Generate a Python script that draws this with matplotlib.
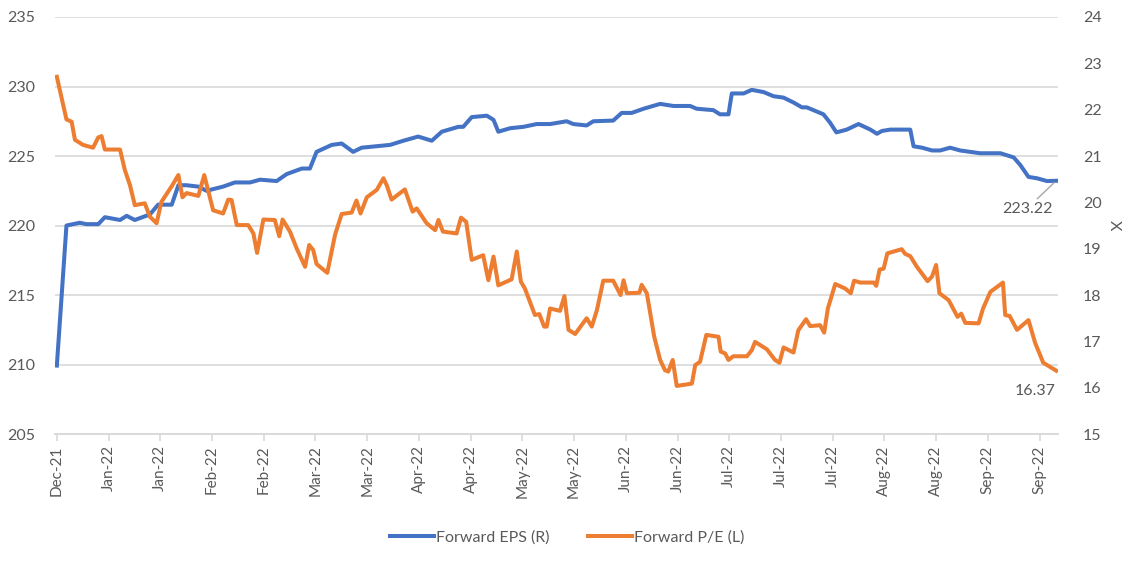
import numpy as np
import pandas as pd
import matplotlib
matplotlib.use('Agg')
import matplotlib.pyplot as plt
import matplotlib.dates as mdates

plt.rcParams['font.family'] = ['Lato', 'DejaVu Sans']

# days after 31 Dec 2021
eps_days = [0, 2.6, 6.2, 8.0, 11.2, 13.0, 17.1, 18.9, 21.1, 25.2, 27.4, 31.1, 32.9, 35.1,
            38.3, 40.5, 45.0, 48.2, 52.3, 55.0, 59.5, 62.2, 66.3, 68.5, 70.3, 74.4, 77.1,
            80.2, 82.5, 90.2, 93.8, 97.8, 101.5, 104.2, 108.7, 110.0, 112.3, 116.4, 118.2,
            119.5, 122.7, 126.3, 129.9, 133.5, 138.0, 139.8, 143.4, 145.2, 150.6, 152.9,
            155.6, 158.8, 163.3, 166.9, 171.4, 173.2, 177.7, 179.5, 181.8, 182.7, 185.9,
            188.1, 191.3, 194.0, 196.7, 199.4, 201.7, 203.0, 204.8, 207.5, 209.3, 211.0,
            213.8, 217.0, 220.2, 222.0, 223.3, 225.6, 231.0, 231.9, 234.2, 236.9, 239.1,
            241.8, 244.5, 249.9, 255.4, 259.0, 260.8, 263.0, 265.3, 268.0, 270.5]
eps = [209.93, 220.0, 220.2, 220.1, 220.1, 220.6, 220.4, 220.7, 220.4, 220.8, 221.5, 221.5,
       222.9, 222.9, 222.8, 222.5, 222.8, 223.1, 223.1, 223.3, 223.2, 223.7, 224.1, 224.1,
       225.3, 225.8, 225.9, 225.3, 225.6, 225.8, 226.1, 226.4, 226.1, 226.75, 227.1, 227.1,
       227.8, 227.9, 227.6, 226.75, 227.0, 227.1, 227.3, 227.3, 227.5, 227.3, 227.2, 227.5,
       227.55, 228.1, 228.1, 228.4, 228.75, 228.6, 228.6, 228.4, 228.3, 228.0, 228.0, 229.5,
       229.5, 229.76, 229.6, 229.3, 229.2, 228.85, 228.5, 228.5, 228.3, 228.0, 227.4, 226.7,
       226.9, 227.3, 226.9, 226.6, 226.8, 226.9, 226.9, 225.7, 225.6, 225.4, 225.4, 225.6,
       225.4, 225.2, 225.2, 224.9, 224.35, 223.5, 223.4, 223.2, 223.22]

pe_days = [0, 2.6, 4.0, 4.9, 7.1, 9.8, 11.2, 12.1, 13.0, 17.1, 18.4, 19.8, 21.1, 23.8, 25.2,
           27.0, 28.3, 31.1, 32.9, 34.0, 35.1, 38.3, 39.9, 42.3, 45.0, 46.4, 47.3, 48.7,
           51.8, 53.2, 54.2, 55.9, 59.0, 60.2, 61.1, 63.1, 64.9, 67.2, 68.3, 69.4, 70.3,
           73.2, 75.3, 77.1, 79.8, 81.1, 82.2, 83.9, 86.6, 88.4, 89.3, 90.6, 94.2, 96.3,
           97.4, 100.1, 102.4, 103.3, 104.5, 108.2, 109.4, 110.8, 112.3, 115.4, 116.8, 118.2,
           119.5, 123.1, 124.5, 125.6, 126.7, 129.4, 130.6, 131.9, 132.6, 133.5, 136.2,
           137.4, 138.5, 140.3, 143.4, 144.8, 146.2, 147.9, 150.6, 152.6, 153.4, 154.3,
           157.7, 158.3, 159.7, 161.7, 163.3, 164.6, 165.5, 166.7, 167.8, 171.9, 172.8,
           174.1, 175.8, 179.1, 179.7, 180.9, 181.8, 183.1, 186.8, 188.1, 189.0, 192.2,
           194.4, 195.6, 196.7, 199.4, 200.7, 202.8, 203.9, 206.6, 207.7, 208.7, 210.7,
           213.4, 214.9, 215.8, 217.5, 221.1, 221.8, 222.7, 223.8, 224.8, 227.4, 228.7,
           229.6, 231.0, 232.8, 235.7, 236.9, 238.0, 238.9, 241.4, 243.8, 244.8, 245.9,
           249.5, 250.7, 252.7, 256.1, 256.7, 257.9, 259.9, 263.0, 264.8, 267.0, 270.5]
pe = [22.71, 21.79, 21.74, 21.35, 21.24, 21.18, 21.40, 21.43, 21.14, 21.14, 20.70, 20.37,
      19.94, 19.98, 19.69, 19.55, 20.01, 20.35, 20.59, 20.11, 20.20, 20.14, 20.59, 19.83,
      19.76, 20.06, 20.05, 19.51, 19.51, 19.33, 18.91, 19.63, 19.62, 19.27, 19.63, 19.37,
      19.01, 18.61, 19.08, 18.97, 18.67, 18.48, 19.30, 19.75, 19.78, 20.04, 19.76, 20.11,
      20.27, 20.52, 20.37, 20.06, 20.28, 19.80, 19.87, 19.55, 19.40, 19.62, 19.37, 19.33,
      19.67, 19.58, 18.76, 18.86, 18.32, 18.83, 18.21, 18.34, 18.94, 18.29, 18.14, 17.57,
      17.59, 17.32, 17.32, 17.71, 17.66, 17.98, 17.25, 17.16, 17.50, 17.32, 17.68, 18.31,
      18.31, 18.00, 18.32, 18.04, 18.05, 18.22, 18.04, 17.10, 16.60, 16.38, 16.35, 16.60,
      16.04, 16.09, 16.49, 16.56, 17.14, 17.10, 16.78, 16.74, 16.60, 16.68, 16.68, 16.81,
      16.99, 16.83, 16.60, 16.54, 16.87, 16.76, 17.24, 17.48, 17.33, 17.35, 17.19, 17.71,
      18.24, 18.14, 18.04, 18.31, 18.27, 18.27, 18.20, 18.55, 18.57, 18.90, 18.96, 18.99,
      18.89, 18.84, 18.61, 18.30, 18.40, 18.65, 18.04, 17.89, 17.53, 17.60, 17.40, 17.39,
      17.71, 18.07, 18.27, 17.57, 17.55, 17.25, 17.46, 16.97, 16.54, 16.37]

start = pd.Timestamp('2021-12-31')
eps_dates = start + pd.to_timedelta(eps_days, unit='D')
pe_dates = start + pd.to_timedelta(pe_days, unit='D')
tick_dates = pd.date_range(start, periods=20, freq='14D')

blue = '#4472C4'
orange = '#ED7D31'
grey = '#595959'
light = '#D9D9D9'

fig = plt.figure(figsize=(11.34, 5.66), dpi=100)
ax = fig.add_axes([0.0485, 0.233, 0.8845, 0.737])
ax2 = ax.twinx()

l1, = ax.plot(eps_dates, eps, color=blue, lw=2.9, label='Forward EPS (R)', solid_joinstyle='round')
l2, = ax2.plot(pe_dates, pe, color=orange, lw=2.9, label='Forward P/E (L)', solid_joinstyle='round')

ax.set_ylim(205, 235)
ax.set_yticks(np.arange(205, 236, 5))
ax2.set_ylim(15, 24)
ax2.set_yticks(np.arange(15, 25, 1))
ax.set_xlim(start - pd.Timedelta(days=0.5), start + pd.Timedelta(days=271))

ax.set_xticks(tick_dates)
ax.xaxis.set_major_formatter(mdates.DateFormatter('%b-%y'))
for lbl in ax.get_xticklabels():
    lbl.set_rotation(90)

ax.grid(axis='y', color=light, lw=1.2)
ax.set_axisbelow(True)
for a in (ax, ax2):
    for s in ('top', 'left', 'right'):
        a.spines[s].set_visible(False)
    a.spines['bottom'].set_color(light)
    a.spines['bottom'].set_linewidth(1.2)

ax.tick_params(axis='y', length=0, pad=14, labelsize=11.5, labelcolor=grey)
ax2.tick_params(axis='y', length=0, pad=18, labelsize=11.5, labelcolor=grey)
ax.tick_params(axis='x', length=5, color=light, width=1.2, pad=3, labelsize=11, labelcolor=grey)
ax2.set_ylabel('X', rotation=270, color=grey, fontsize=11.5, labelpad=14)

ax.annotate(f'{eps[-1]:.2f}', xy=(eps_dates[-1], eps[-1]), xytext=(-21, -20),
            textcoords='offset points', ha='center', va='center', fontsize=11.5, color=grey,
            arrowprops=dict(arrowstyle='-', color='#A6A6A6', lw=1, shrinkA=0, shrinkB=2))
ax2.annotate(f'{pe[-1]:.2f}', xy=(pe_dates[-1], pe[-1]), xytext=(-15, -15),
             textcoords='offset points', ha='center', va='center', fontsize=11.5, color=grey)

fig.legend(handles=[l1, l2], loc='center', bbox_to_anchor=(0.5, 0.051), ncol=2,
           frameon=False, fontsize=11.5, labelcolor=grey, handlelength=2.8,
           handletextpad=0.1, columnspacing=2.4)

fig.savefig('out.png', dpi=100)
